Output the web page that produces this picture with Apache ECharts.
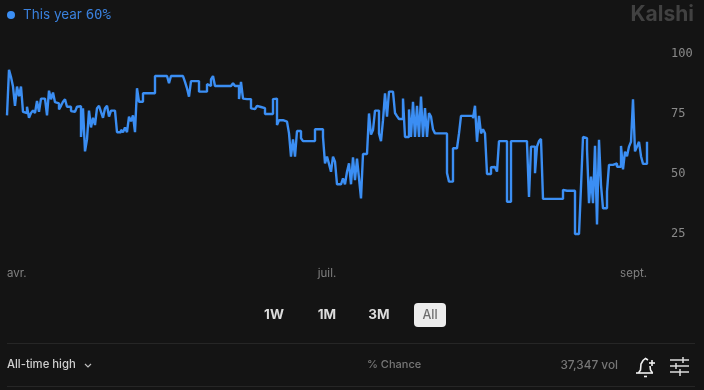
<!DOCTYPE html>
<html>
<head>
<meta charset="utf-8">
<style>
  html, body { margin: 0; padding: 0; background: #141414; }
  #chart { width: 704px; height: 390px; }
</style>
<script src="https://cdn.jsdelivr.net/npm/echarts@6/dist/echarts.min.js"></script>
</head>
<body>
<div id="chart"></div>
<script>
var seriesName = 'This year 60%';
var yTicks = [25, 50, 75, 100];
var xTickLabels = ['avr.', 'juil.', 'sept.'];
var xTickIndex = [0, 160, 320];
var rangeButtons = ['1W', '1M', '3M', 'All'];

var values = [
  74, 93, 90, 86, 78, 86, 82, 86, 75.5, 75,
  77.6, 73, 75, 76, 75, 80, 75.5, 81, 81, 81,
  74, 84.3, 80.7, 83.5, 79.5, 79, 76.5, 78, 79.7, 80.7,
  77.6, 77.6, 75.8, 75.5, 75, 77.6, 77.8, 65, 77, 59,
  64, 76, 69, 73, 70, 77, 78, 75.5, 73, 77,
  78, 73.5, 76, 76, 76, 67, 67, 68, 67, 69,
  67, 73.5, 71.5, 74, 67, 85.3, 79.7, 79.7, 83.2, 83.2,
  83.2, 83.2, 83.2, 83.2, 90.4, 90.4, 90.4, 90.4, 90.4, 90.4,
  90.4, 87.4, 90.4, 90.4, 90.4, 90.4, 90.4, 90.4, 90.4, 88,
  85.3, 81.8, 88.3, 88.3, 88.3, 88.3, 83.9, 83.9, 83.9, 83.9,
  87, 86.3, 89, 90.4, 86.25, 86.25, 86.25, 86.25, 86.25, 86.25,
  86.25, 86.25, 86.25, 87.4, 86.25, 86.25, 80.8, 88, 81, 80.8,
  80.8, 80.8, 76.9, 76.6, 76.6, 78, 77.5, 78, 77, 74.6,
  74.6, 74.6, 74.6, 80.8, 81, 70, 72, 72, 71.5, 71.4,
  70.7, 66.5, 56.8, 64, 56.8, 67.5, 67.5, 64.5, 63.3, 63.3,
  63.3, 63.3, 63.3, 63.3, 68.2, 68.2, 68.2, 68.2, 65, 54,
  56.8, 53.8, 50.5, 56.8, 54.7, 45.3, 45.3, 45.3, 47.8, 45.3,
  50.5, 54, 45.3, 56.5, 47, 56, 47.8, 39.4, 57.9, 57.9,
  57.9, 74.8, 66, 67.9, 76, 76, 66.5, 63.3, 72, 83.2,
  73.5, 83.9, 83.9, 83.9, 75, 73.7, 72.5, 72.5, 81, 65,
  65, 76.5, 65, 79.7, 65, 78, 65, 81.8, 65, 77,
  65, 75, 73.5, 68.2, 66.5, 66.5, 66.5, 66.5, 66.5, 66.5,
  50, 46.4, 46.4, 60.3, 60.3, 60.3, 66.5, 73.8, 73.8, 73.8,
  73.8, 73.8, 73.8, 72.8, 78, 63, 73.8, 66.5, 68.2, 66.5,
  49.6, 49.6, 52.4, 52.5, 52.7, 50.6, 63.3, 63.3, 63.3, 63.3,
  38, 38, 63.3, 63.3, 63.3, 63.3, 63.3, 63.3, 63.3, 63.3,
  62.4, 40, 61, 61, 49.9, 61, 63.3, 64.2, 39.2, 39.2,
  39.2, 39.2, 39.2, 39.2, 39.2, 39.2, 39.2, 39.2, 43, 42.6,
  42.6, 42.6, 42.6, 42.6, 24.6, 24.6, 24.6, 44.3, 65, 64.5,
  60, 37.4, 48.5, 37.4, 61.3, 28.6, 63.8, 45, 35.3, 35.3,
  42.3, 53.4, 53.4, 54, 54, 52.6, 52.6, 61.3, 51.5, 58.9,
  57, 61, 63, 80.7, 59, 61, 63, 57, 53.8, 53.8,
  63
];

var categories = values.map(function (v, i) {
  var k = xTickIndex.indexOf(i);
  return k >= 0 ? xTickLabels[k] : String(i);
});

var uiFont = 'Inter, "Noto Sans", sans-serif';
var monoFont = '"DejaVu Sans Mono", monospace';
var blue = '#3b8ef3';

function label(text, x, y, size, color, weight, align) {
  return {
    type: 'text', x: x, y: y,
    style: {
      text: text, fill: color, font: (weight || 400) + ' ' + size + 'px ' + uiFont,
      textAlign: align || 'left', textVerticalAlign: 'middle'
    }
  };
}
function rule(x1, y1, x2, y2, color, width) {
  return {
    type: 'line', shape: { x1: x1, y1: y1, x2: x2, y2: y2 },
    style: { stroke: color, lineWidth: width || 1 }
  };
}
function stroke(points, color, width) {
  return {
    type: 'polyline', shape: { points: points },
    style: { stroke: color, fill: null, lineWidth: width }
  };
}

var buttonX = [274, 327, 379, 430];
var graphics = [
  label('Kalshi', 694, 15, 21, '#414141', 700, 'right'),
  { type: 'rect', shape: { x: 414, y: 303, width: 32, height: 24, r: 4 }, style: { fill: '#ececec' } },
  rule(7, 343.5, 695, 343.5, '#262626'),
  rule(7, 386.5, 695, 386.5, '#262626'),
  label('All-time high', 7, 365, 11.3, '#cfcfcf', 500),
  stroke([[85, 364], [88, 367], [91, 364]], '#bdbdbd', 1.2),
  label('% Chance', 367, 365, 11, '#777777', 500),
  label('37,347 vol', 618, 365, 11.8, '#777777', 500, 'right'),
  // bell with plus
  stroke([[636, 373], [653, 373]], '#f0f0f0', 1.6),
  stroke([[638.5, 373], [640.5, 370], [641, 364], [643, 360.5], [645.5, 358.5], [648, 360]], '#f0f0f0', 1.6),
  stroke([[650, 366], [650.5, 370], [652.5, 373]], '#f0f0f0', 1.6),
  stroke([[644, 376.5], [647, 376.5]], '#f0f0f0', 1.6),
  rule(649, 363, 655, 363, '#f0f0f0', 1.6),
  rule(652, 360, 652, 366, '#f0f0f0', 1.6),
  // sliders
  rule(670, 360, 689, 360, '#dddddd', 1.5),
  rule(670, 366, 689, 366, '#dddddd', 1.5),
  rule(670, 372, 689, 372, '#dddddd', 1.5),
  rule(683, 357, 683, 363, '#dddddd', 1.5),
  rule(676, 363, 676, 369, '#dddddd', 1.5),
  rule(680, 369, 680, 376, '#dddddd', 1.5)
];
rangeButtons.forEach(function (b, i) {
  var on = b === 'All';
  graphics.push(label(b, buttonX[i], 315, on ? 12.5 : 13.5, on ? '#6e6e6e' : '#dcdcdc', on ? 500 : 700, 'center'));
});

var chart = echarts.init(document.getElementById('chart'));
chart.setOption({
  backgroundColor: '#141414',
  animation: false,
  legend: {
    show: true, left: 2, top: 3, itemWidth: 8, itemHeight: 8, itemGap: 8, icon: 'circle',
    formatter: function (name) {
      return '{a|' + name.slice(0, -3) + '}{b|' + name.slice(-3) + '}';
    },
    textStyle: {
      rich: {
        a: { color: '#3a80dc', fontFamily: uiFont, fontSize: 13.5, padding: [0, 0, 0, 3] },
        b: { color: '#3a80dc', fontFamily: monoFont, fontSize: 14 }
      }
    }
  },
  grid: { left: 7, right: 57, top: 53, bottom: 157 },
  xAxis: {
    type: 'category',
    boundaryGap: false,
    data: categories,
    axisLine: { show: false },
    axisTick: { show: false },
    axisLabel: {
      color: '#808080', fontFamily: uiFont, fontSize: 11.5, margin: 35,
      alignMinLabel: 'left', alignMaxLabel: 'right',
      showMinLabel: true, showMaxLabel: true,
      interval: function (i) { return xTickIndex.indexOf(i) >= 0; }
    },
    splitLine: { show: false }
  },
  yAxis: {
    type: 'value',
    position: 'right',
    min: yTicks[0],
    max: yTicks[yTicks.length - 1],
    interval: 25,
    axisLine: { show: false },
    axisTick: { show: false },
    axisLabel: {
      margin: 24,
      formatter: '{v|{value}}',
      rich: { v: { color: '#8a8a8a', fontFamily: monoFont, fontSize: 12, padding: [2, 0, 0, 0] } }
    },
    splitLine: { show: false }
  },
  series: [{
    name: seriesName,
    type: 'line',
    step: 'end',
    data: values,
    clip: false,
    symbol: 'none',
    itemStyle: { color: blue },
    lineStyle: { color: blue, width: 2.4 }
  }],
  graphic: graphics
});
</script>
</body>
</html>
